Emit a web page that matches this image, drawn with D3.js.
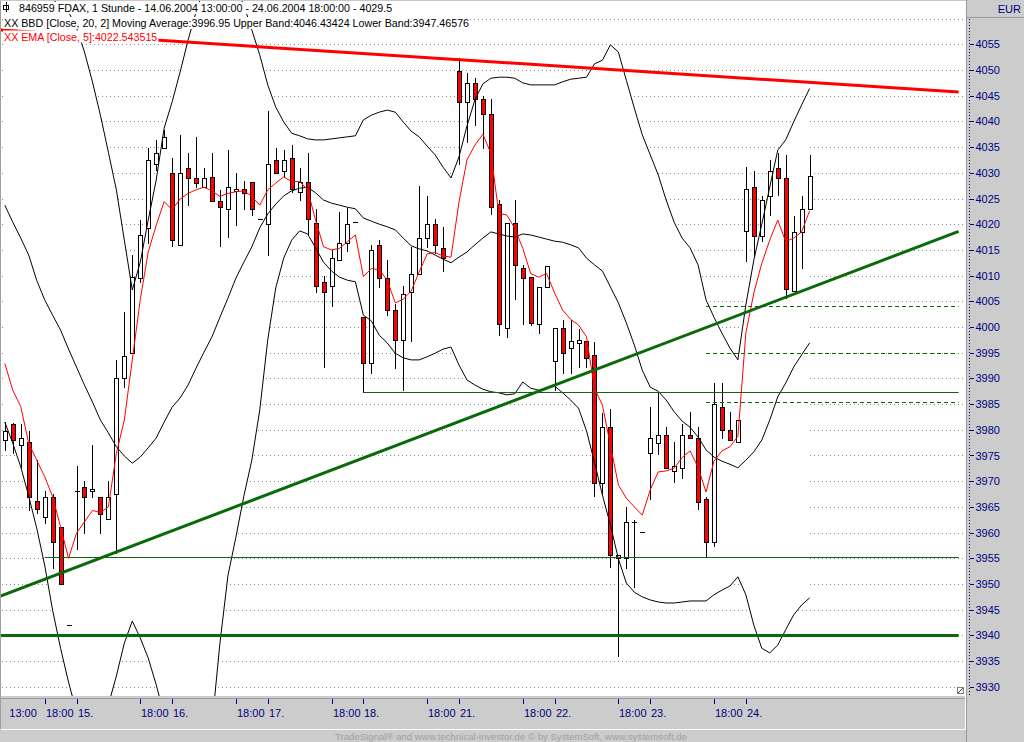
<!DOCTYPE html>
<html><head><meta charset="utf-8">
<script src="https://cdn.jsdelivr.net/npm/d3@7/dist/d3.min.js"></script>
<style>
html,body{margin:0;padding:0;background:#cccccc;overflow:hidden}
svg{display:block}
text{font-family:"Liberation Sans",Arial,sans-serif}
</style></head><body>
<svg id="c" width="1024" height="742"></svg>
<script>
// ---------- DATA (hourly FDAX bars, index 0 = 14.06.2004 13:00) ----------
const opens  = [3978.0,3981.1,3977.0,3977.6,3966.1,3963.0,3967.0,3961.0,3942.0,3968.0,3968.9,3968.0,3967.0,3962.6,3967.5,3990.0,3994.9,4009.5,4019.3,4031.8,4034.8,4029.9,4016.0,4030.9,4028.9,4027.2,4029.2,4024.5,4022.9,4026.5,4026.8,4028.3,4021.0,4020.0,4032.4,4030.4,4032.8,4026.3,4028.3,4020.3,4008.8,4008.0,4013.0,4016.4,4020.5,4001.9,3992.9,4016.0,4009.5,4003.4,3997.5,4006.9,4010.4,4017.4,4020.0,4015.3,null,4049.8,4043.8,4047.5,4044.3,4041.4,4023.9,3999.9,4020.3,4011.4,4009.8,4000.5,4007.8,3993.4,3999.9,3995.9,3996.9,3997.3,3994.5,3969.6,3980.5,3955.0,3955.0,3962.0,3960.1,3975.4,3977.5,3978.9,3972.0,3972.5,3979.0,3978.5,3966.5,3958.1,3984.4,3980.0,3977.6,4018.7,4027.3,4017.8,4025.4,4030.9,4028.9,4007.0,4018.4,4022.9];
const highs  = [3981.6,3981.4,3981.1,3979.8,3974.1,3968.0,3967.6,3961.0,3942.0,3973.0,3970.1,3977.0,3967.0,3970.1,3993.6,4002.9,4014.0,4020.9,4034.9,4036.4,4038.3,4032.8,4037.4,4033.9,4037.0,4030.9,4033.9,4026.7,4034.4,4029.9,4028.5,4028.3,4021.0,4042.0,4034.8,4034.4,4035.4,4030.9,4033.8,4022.9,4009.9,4015.0,4022.4,4023.1,4020.5,4001.9,4016.0,4016.9,4013.0,4004.5,4008.0,4015.5,4027.4,4025.5,4021.0,4019.4,null,4052.3,4049.5,4048.5,4044.9,4044.3,4024.8,4020.3,4024.8,4012.1,4009.8,4007.8,4011.9,3999.9,4001.4,4001.4,3999.7,3997.3,3997.1,3983.3,3984.0,3955.6,3964.9,3962.5,3960.1,3984.4,3987.2,3980.6,3977.6,3981.1,3983.4,3980.6,3967.0,3989.2,3989.2,3983.5,3982.0,4031.1,4030.4,4025.4,4032.5,4033.8,4033.5,4021.5,4025.4,4033.5];
const lows   = [3976.1,3975.4,3972.8,3964.4,3963.9,3961.9,3953.1,3950.0,3942.0,3956.9,3960.0,3967.0,3960.0,3962.6,3956.0,3988.4,3994.9,4008.8,4016.3,4030.5,4034.8,4015.8,4016.0,4023.7,4027.2,4027.2,4024.5,4015.8,4017.5,4019.8,4022.9,4021.8,4021.0,4014.0,4030.0,4029.2,4026.3,4024.7,4017.9,4006.9,3992.3,4004.0,4013.0,4014.7,4020.5,3987.4,3991.0,4007.8,4002.3,3992.0,3987.7,3997.3,4010.4,4015.6,4014.3,4010.8,null,4031.8,4035.9,4039.3,4034.8,4022.0,3998.4,3998.0,4005.4,4000.5,4000.4,3998.9,4007.8,3987.7,3991.0,3991.0,3992.3,3992.3,3967.1,3967.5,3953.4,3936.0,3953.1,3949.5,3960.1,3966.5,3975.3,3972.5,3969.9,3970.6,3978.5,3964.5,3955.4,3957.4,3978.5,3978.0,3977.6,4012.9,4013.8,4016.8,4021.8,4025.7,4005.6,4007.0,4011.4,4022.9];
const closes = [3979.8,3978.0,3978.5,3967.0,3964.5,3967.0,3958.1,3950.0,3942.0,3968.0,3967.0,3968.5,3963.6,3967.0,3990.0,3994.4,4009.8,4017.9,4032.5,4033.8,4036.9,4016.9,4029.9,4028.9,4028.0,4028.9,4024.5,4023.3,4027.3,4026.8,4026.1,4022.9,4021.0,4031.8,4030.0,4032.4,4026.8,4028.3,4021.0,4008.0,4006.9,4013.4,4016.4,4020.0,4020.5,3992.9,4015.0,4009.5,4003.4,3997.5,4006.4,4010.4,4017.4,4020.0,4016.0,4013.4,null,4043.8,4047.5,4044.3,4041.4,4023.3,4000.5,4020.3,4012.1,4009.5,4000.8,4007.8,4011.9,3999.9,3994.9,3997.3,3997.5,3993.9,3969.6,3980.5,3955.6,3955.6,3962.0,3962.0,3960.1,3978.5,3978.9,3972.5,3973.0,3979.0,3978.5,3966.0,3958.1,3985.0,3980.0,3978.0,3982.0,4026.8,4017.8,4024.8,4030.4,4028.9,4007.3,4018.4,4022.9,4029.4];

// Bollinger Bands (Close, 20, 2)
const bbUpper = [4070.4,4069.5,4068.5,4067.0,4065.5,4064.6,4063.8,4062.3,4061.3,4058.2,4053.5,4047.7,4041.2,4034.0,4026.7,4016.9,4007.2,4012.6,4020.8,4028.6,4038.7,4043.8,4049.6,4055.8,4061.3,4066.0,4068.5,4069.5,4068.5,4066.0,4062.6,4057.8,4052.9,4047.1,4042.8,4039.9,4037.7,4037.2,4036.6,4036.4,4036.4,4036.6,4036.8,4037.0,4037.2,4040.3,4041.2,4041.8,4042.2,4041.8,4039.9,4038.1,4037.0,4035.2,4033.5,4031.1,4029.0,4033.1,4039.1,4044.2,4047.3,4048.4,4048.6,4048.6,4048.4,4047.5,4047.1,4047.1,4047.1,4047.1,4047.7,4048.2,4048.4,4048.6,4051.2,4051.9,4054.9,4053.5,4048.0,4042.6,4037.4,4033.5,4029.6,4024.7,4020.4,4017.3,4015.4,4012.1,4005.3,4001.9,3998.8,3995.9,3993.6,4004.3,4013.0,4020.0,4027.2,4034.4,4036.4,4039.9,4043.2,4046.4];
const bbMiddle = [4023.7,4020.4,4017.3,4014.0,4009.1,4005.3,4002.3,3999.4,3995.7,3992.2,3988.7,3985.4,3981.9,3979.4,3976.7,3974.9,3973.5,3974.7,3976.5,3978.4,3981.5,3984.4,3986.2,3988.7,3992.0,3995.1,3998.1,4001.9,4005.6,4009.5,4012.6,4015.6,4019.3,4022.0,4023.9,4025.5,4026.5,4027.0,4027.2,4026.1,4024.7,4024.1,4023.7,4023.3,4023.0,4021.2,4020.6,4020.0,4019.5,4018.9,4017.3,4015.8,4015.2,4014.8,4014.0,4013.2,4012.5,4013.6,4014.6,4016.0,4017.3,4018.5,4018.1,4017.7,4017.5,4018.1,4017.9,4017.5,4017.1,4016.7,4016.5,4016.0,4015.4,4013.4,4012.1,4010.9,4007.8,4004.7,4000.8,3996.5,3991.6,3988.3,3987.5,3985.8,3983.5,3981.7,3980.5,3978.6,3976.1,3974.7,3973.9,3973.3,3972.6,3974.1,3975.7,3978.0,3981.9,3986.4,3989.1,3992.2,3994.6,3996.9];
const bbLower = [3981.5,3977.4,3972.8,3967.1,3960.9,3953.7,3944.9,3937.5,3930.9,3925.1,3920.6,3918.7,3921.6,3926.5,3932.1,3938.5,3942.8,3939.5,3935.6,3930.4,3924.5,3919.6,3916.7,3914.8,3914.8,3916.7,3922.6,3938.5,3951.6,3959.1,3967.1,3974.1,3983.9,3997.5,4007.6,4013.4,4016.9,4018.7,4018.1,4015.4,4012.6,4010.9,4009.7,4009.1,4008.8,4002.3,4001.2,3998.4,3996.9,3994.9,3994.0,3993.6,3993.6,3994.2,3994.9,3995.7,3996.1,3992.6,3989.7,3988.7,3987.9,3987.4,3987.2,3986.8,3987.0,3989.3,3988.1,3987.7,3988.1,3988.5,3987.2,3985.8,3984.2,3979.8,3973.7,3967.3,3961.5,3954.9,3950.2,3948.4,3947.5,3946.9,3946.5,3946.3,3946.3,3946.5,3946.7,3946.7,3946.7,3947.9,3948.8,3949.6,3951.4,3947.9,3942.0,3937.5,3936.6,3938.1,3941.1,3944.0,3945.9,3947.3];
// EMA (Close, 5)
const ema5 = [3992.9,3987.7,3984.5,3977.4,3974.1,3970.9,3967.0,3961.1,3955.0,3959.9,3962.1,3964.3,3963.9,3965.0,3975.4,3981.9,3993.6,4005.3,4014.6,4019.8,4024.4,4022.8,4024.9,4026.0,4026.7,4027.2,4026.5,4025.4,4026.0,4026.3,4026.5,4025.4,4023.7,4026.7,4028.0,4029.2,4028.3,4028.3,4026.7,4020.8,4015.6,4015.0,4015.3,4016.6,4017.9,4009.8,4011.4,4011.1,4009.1,4004.7,4005.4,4007.0,4010.7,4014.2,4014.5,4013.8,4013.6,4024.3,4032.5,4035.4,4037.5,4033.8,4022.1,4021.8,4019.2,4015.3,4010.4,4009.7,4010.4,4006.6,4003.3,4001.5,4000.4,3998.1,3988.1,3984.8,3977.0,3969.3,3966.7,3965.0,3963.4,3968.3,3971.8,3972.0,3972.5,3974.6,3975.9,3972.7,3967.9,3973.9,3975.9,3976.7,3978.7,3998.8,4006.6,4012.4,4016.9,4020.8,4016.6,4017.3,4018.5,4022.6];

// drawn trend lines: [barIndex, price] end points
const resistanceLine = [[-0.6, 4057.8], [119.7, 4045.7]];
const supportTrend   = [[-0.6, 3947.6], [119.7, 4018.6]];
// horizontal levels: price and the bar index where each starts
const levelPrices = [3940.0, 3955.2, 3987.3];
const levelStarts = [-0.6, 5, 45];
const dashedPrices = [4004.0, 3994.9, 3985.5];
const dashedStart = 88;
const lineEnd = 119.7;

// axis ticks
const tickBars   = [0, 5, 9, 17, 21, 29, 33, 41, 45, 53, 57, 65, 69, 77, 81, 89, 93];
const tickLabels = ["13:00","18:00","15.","18:00","16.","18:00","17.","18:00","18.","18:00","21.","18:00","22.","18:00","23.","18:00","24."];
const priceTicks = d3.range(3930, 4056, 5);
const gridPrices = d3.range(3930, 4061, 5);

const headerLines = [
  "846959 FDAX, 1 Stunde - 14.06.2004 13:00:00 - 24.06.2004 18:00:00 - 4029.5",
  "XX BBD [Close, 20, 2] Moving Average:3996.95 Upper Band:4046.43424 Lower Band:3947.46576",
  "XX EMA [Close, 5]:4022.543515"
];
const footerText = "TradeSignal\u00AE and www.technical-investor.de \u00A9 by SystemSoft, www.systemsoft.de";

// ---------- DRAWING ----------
const W = 1024, H = 742;
const PX1 = 966, PY1 = 696;
const x = d3.scaleLinear().domain([0, 101]).range([4.8, 809.6]);
const y = d3.scaleLinear().domain([3930, 4055]).range([686.8, 44.3]);
const svg = d3.select("#c");
const navy = "#000080";
const green = "#0a6a0a";
const cr = v => Math.round(v) + 0.5;

svg.append("rect").attr("width", W).attr("height", H).attr("fill", "#cccccc");
svg.append("defs").append("clipPath").attr("id", "clip")
  .append("rect").attr("x", 1).attr("y", 1).attr("width", PX1 - 1).attr("height", PY1 - 1);

// plot background
svg.append("rect").attr("x", 0).attr("y", 0).attr("width", PX1).attr("height", PY1).attr("fill", "#ffffff");
svg.append("line").attr("x1", 0.5).attr("x2", 0.5).attr("y1", 0).attr("y2", 729).attr("stroke", "#a0a0a0");
svg.append("line").attr("x1", 0).attr("x2", PX1).attr("y1", 0.5).attr("y2", 0.5).attr("stroke", "#c8c8c8");

const plot = svg.append("g").attr("clip-path", "url(#clip)");

// grid
plot.append("g").selectAll("line").data(gridPrices).join("line")
  .attr("x1", 2).attr("x2", 965)
  .attr("y1", d => cr(y(d))).attr("y2", d => cr(y(d)))
  .attr("stroke", "#8a8a8a").attr("stroke-dasharray", "1,3");

// band area covers the grid
const idx = d3.range(bbUpper.length);
plot.append("path").datum(idx)
  .attr("d", d3.area().x(i => x(i)).y0(i => y(bbLower[i])).y1(i => y(bbUpper[i])))
  .attr("fill", "#ffffff");

// header
const hdr = svg.append("g");
const hx = [19, 4, 4], hy = [12, 27, 40.5], hc = ["#000", "#000", "#ff0000"];
headerLines.forEach((t, k) => {
  const bg = hdr.append("rect").attr("fill", "#fff");
  const tx = hdr.append("text").attr("x", hx[k]).attr("y", hy[k])
    .attr("font-size", 10.7).attr("fill", hc[k]).text(t);
  const b = tx.node().getBBox();
  bg.attr("x", b.x - 1).attr("y", b.y).attr("width", b.width + 2).attr("height", b.height);
});
// small chart icon
hdr.append("rect").attr("x", 3.5).attr("y", 5.5).attr("width", 5).attr("height", 4).attr("fill", "#fff").attr("stroke", "#000");
hdr.append("line").attr("x1", 6.5).attr("x2", 6.5).attr("y1", 2).attr("y2", 12).attr("stroke", "#000");

// candles
const bars = idx.filter(i => opens[i] != null);
const cg = plot.append("g");
cg.selectAll("line.wick").data(bars).join("line").attr("class", "wick")
  .attr("x1", i => cr(x(i))).attr("x2", i => cr(x(i)))
  .attr("y1", i => Math.round(y(highs[i]))).attr("y2", i => Math.round(y(lows[i])) + 1)
  .attr("stroke", "#000");
cg.selectAll("rect.body").data(bars.filter(i => opens[i] !== closes[i])).join("rect").attr("class", "body")
  .attr("x", i => Math.round(x(i)) - 2 + 0.5)
  .attr("y", i => cr(y(Math.max(opens[i], closes[i]))))
  .attr("width", 4)
  .attr("height", i => Math.max(1, Math.round(y(Math.min(opens[i], closes[i]))) - Math.round(y(Math.max(opens[i], closes[i])))))
  .attr("fill", i => closes[i] > opens[i] ? "#ffffff" : "#ff0000")
  .attr("stroke", "#000");
cg.selectAll("line.doji").data(bars.filter(i => opens[i] === closes[i])).join("line").attr("class", "doji")
  .attr("x1", i => Math.round(x(i)) - 2).attr("x2", i => Math.round(x(i)) + 3)
  .attr("y1", i => cr(y(closes[i]))).attr("y2", i => cr(y(closes[i])))
  .attr("stroke", "#000");

// bands
const ln = arr => d3.line().x(i => x(i)).y(i => y(arr[i]));
[bbUpper, bbMiddle, bbLower].forEach(a => {
  plot.append("path").datum(idx).attr("d", ln(a)).attr("fill", "none").attr("stroke", "#000").attr("stroke-width", 1);
});

// levels
plot.append("g").selectAll("line").data(levelPrices).join("line")
  .attr("x1", (d, k) => x(levelStarts[k])).attr("x2", x(lineEnd))
  .attr("y1", d => cr(y(d))).attr("y2", d => cr(y(d)))
  .attr("stroke", green).attr("stroke-width", (d, k) => k === 0 ? 3 : 1);
plot.append("g").selectAll("line").data(dashedPrices).join("line")
  .attr("x1", x(dashedStart)).attr("x2", x(lineEnd))
  .attr("y1", d => cr(y(d))).attr("y2", d => cr(y(d)))
  .attr("stroke", green).attr("stroke-dasharray", "4,3");

// EMA
plot.append("path").datum(idx).attr("d", ln(ema5)).attr("fill", "none").attr("stroke", "#ff0000").attr("stroke-width", 1);

// trend lines
const tl = d3.line().x(d => x(d[0])).y(d => y(d[1]));
plot.append("path").datum(supportTrend).attr("d", tl).attr("stroke", green).attr("stroke-width", 3).attr("fill", "none");
plot.append("path").datum(resistanceLine).attr("d", tl).attr("stroke", "#ff0000").attr("stroke-width", 3).attr("fill", "none");

// resize glyph bottom-right of plot
svg.append("rect").attr("x", 957.5).attr("y", 687.5).attr("width", 6).attr("height", 6).attr("fill", "#fff").attr("stroke", "#808080");
svg.append("line").attr("x1", 958).attr("y1", 693).attr("x2", 963).attr("y2", 688).attr("stroke", "#404040");

// bottom axis panel
svg.append("rect").attr("x", 1).attr("y", PY1).attr("width", PX1 - 1).attr("height", 33).attr("fill", "#cccccc");
svg.append("line").attr("x1", 1).attr("x2", PX1).attr("y1", 698.5).attr("y2", 698.5).attr("stroke", "#9a9a9a");
svg.append("line").attr("x1", 1).attr("x2", PX1).attr("y1", 729.5).attr("y2", 729.5).attr("stroke", "#ffffff");
svg.append("line").attr("x1", 965.5).attr("x2", 965.5).attr("y1", PY1).attr("y2", 730).attr("stroke", "#ffffff");
const xa = svg.append("g");
xa.selectAll("line").data(tickBars.filter(b => b > 0)).join("line")
  .attr("x1", b => cr(x(b))).attr("x2", b => cr(x(b))).attr("y1", 699).attr("y2", 704)
  .attr("stroke", navy);
xa.selectAll("text").data(tickBars).join("text")
  .attr("x", (b, k) => k === 0 ? 9.3 : Math.round(x(b)) + 1)
  .attr("y", 716.5).attr("font-size", 11).attr("fill", navy)
  .text((b, k) => tickLabels[k]);

// right axis panel
svg.append("line").attr("x1", 966.5).attr("x2", 966.5).attr("y1", 0).attr("y2", H).attr("stroke", "#9a9a9a");
svg.append("line").attr("x1", 967).attr("x2", W).attr("y1", 17.5).attr("y2", 17.5).attr("stroke", "#9a9a9a");
svg.append("text").attr("x", 1021).attr("y", 12.5).attr("text-anchor", "end").attr("font-size", 11).attr("fill", navy).text("EUR");
svg.append("line").attr("x1", 969.5).attr("x2", 969.5).attr("y1", 19).attr("y2", 696).attr("stroke", navy).attr("stroke-dasharray", "1,2");
const ya = svg.append("g");
ya.selectAll("line").data(priceTicks).join("line")
  .attr("x1", 970).attr("x2", 974).attr("y1", d => cr(y(d))).attr("y2", d => cr(y(d))).attr("stroke", navy);
ya.selectAll("text").data(priceTicks).join("text")
  .attr("x", 975.5).attr("y", d => y(d) + 4).attr("font-size", 11).attr("fill", navy)
  .text(d => d);

// footer
svg.append("text").attr("x", 511).attr("y", 739.5).attr("text-anchor", "middle")
  .attr("font-size", 9.6).attr("fill", "#a0a0a0").text(footerText);
</script>
</body></html>
